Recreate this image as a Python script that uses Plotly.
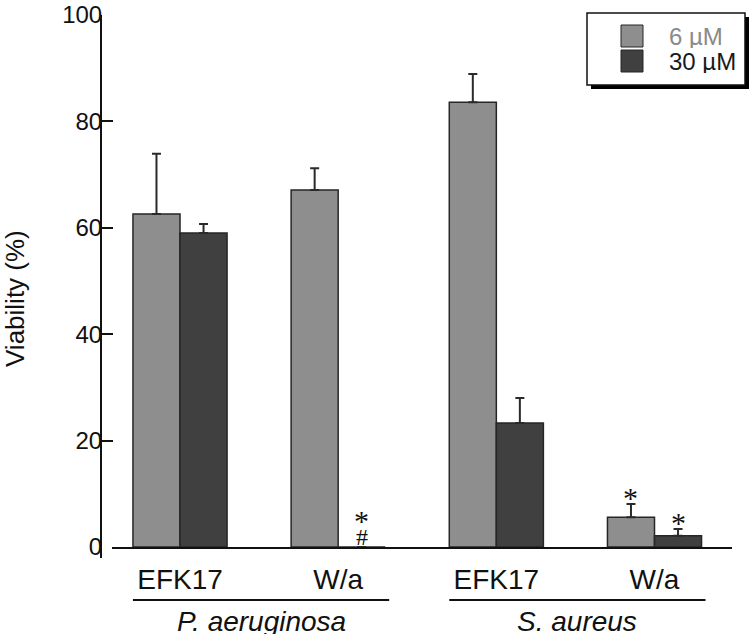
import plotly.graph_objects as go

# ---- data ----
groups = ["EFK17", "W/a", "EFK17", "W/a"]
species = ["P. aeruginosa", "S. aureus"]
species_span = [(0, 1), (2, 3)]
series_names = ["6 µM", "30 µM"]
v6 = [62.6, 67.1, 83.6, 5.6]
e6 = [11.3, 4.1, 5.3, 2.5]
v30 = [59.0, 0.0, 23.3, 2.1]
e30 = [1.7, 0.0, 4.7, 1.3]
# significance marks: (group index, series index, text)
marks = [(1, 1, "*"), (1, 1, "#"), (3, 0, "*"), (3, 1, "*")]
y_ticks = [0, 20, 40, 60, 80, 100]

# ---- style ----
FONT = "Liberation Sans, Arial, Helvetica, sans-serif"
SERIF = "Liberation Serif, Times New Roman, serif"
C6 = "#8e8e8e"
C30 = "#404040"
EDGE = "#262626"
BARGAP = 0.405

x = list(range(len(groups)))

fig = go.Figure()
for vals, errs, name, col in [(v6, e6, series_names[0], C6), (v30, e30, series_names[1], C30)]:
    fig.add_trace(go.Bar(
        x=x, y=vals, name=name, showlegend=False,
        marker=dict(color=col, line=dict(color=EDGE, width=1.5)),
        error_y=dict(type="data", array=errs, arrayminus=[0] * len(errs), symmetric=False,
                     color="#2a2a2a", thickness=2, width=4.5),
    ))

half = (1 - BARGAP) / 4  # half of one bar width in x units
tops = [[v + e for v, e in zip(v6, e6)], [v + e for v, e in zip(v30, e30)]]
annotations = []
for gi, si, txt in marks:
    xpos = gi + (-half if si == 0 else half)
    top = tops[si][gi]
    if txt == "#":
        yshift, size = -5, 24
    elif top == 0:
        yshift, size = 8, 30
    else:
        yshift, size = -12, 30
    annotations.append(dict(x=xpos, y=top, xref="x", yref="y", text=txt, showarrow=False,
                            yanchor="bottom", yshift=yshift,
                            font=dict(family=SERIF, size=size, color="#111")))

# species labels and underlines
shapes = []
for (a, b), sp in zip(species_span, species):
    x0 = a - 2 * half
    x1 = b + 2 * half + 0.025
    shapes.append(dict(type="line", xref="x", yref="paper", x0=x0, x1=x1,
                       y0=-53 / 532, y1=-53 / 532, line=dict(color="#111", width=2)))
    annotations.append(dict(x=(x0 + x1) / 2, y=-74 / 532, xref="x", yref="paper", text="<i>%s</i>" % sp,
                            showarrow=False, xanchor="center", yanchor="middle", height=26,
                            font=dict(family=FONT, size=28, color="#111")))

# y-axis line extension below zero
shapes.append(dict(type="line", xref="paper", yref="paper", x0=0, x1=0, y0=0, y1=-11 / 532,
                   line=dict(color="#111", width=2)))

# y-axis title
annotations.append(dict(x=-86 / 631, y=(547 - 298) / 532, xref="paper", yref="paper",
                        text="Viability (%)", textangle=-90, showarrow=False,
                        xanchor="center", yanchor="middle",
                        font=dict(family=FONT, size=26, color="#111")))

# legend (manual, with drop shadow); px/py convert pixels to paper units
def px(xp):
    return (xp - 101) / 631

def py(yp):
    return (547 - yp) / 532

shapes.append(dict(type="rect", xref="paper", yref="paper", x0=px(591), x1=px(749), y0=py(17), y1=py(89),
                   fillcolor="#000", line=dict(width=0)))
shapes.append(dict(type="rect", xref="paper", yref="paper", x0=px(587), x1=px(745), y0=py(13), y1=py(85),
                   fillcolor="#fff", line=dict(color="#111", width=1.5)))
for i, (name, col, tcol) in enumerate([(series_names[0], C6, "#8a8a8a"), (series_names[1], C30, "#1a1a1a")]):
    yc = 36 + 25 * i
    shapes.append(dict(type="rect", xref="paper", yref="paper", x0=px(621), x1=px(643),
                       y0=py(yc - 11), y1=py(yc + 11), fillcolor=col, line=dict(color=EDGE, width=1)))
    annotations.append(dict(x=px(667), y=py(yc), xref="paper", yref="paper", text=name, showarrow=False,
                            xanchor="left", yanchor="middle", height=24,
                            font=dict(family=FONT, size=24, color=tcol)))

fig.update_layout(
    width=750, height=635, autosize=False,
    margin=dict(l=101, r=18, t=15, b=88, pad=0),
    paper_bgcolor="white", plot_bgcolor="white",
    barmode="group", bargap=BARGAP, bargroupgap=0,
    font=dict(family=FONT, color="#111"),
    shapes=shapes, annotations=annotations,
    xaxis=dict(domain=[11 / 631, 1], range=[-0.43, 3.49], tickmode="array", tickvals=x, ticktext=groups,
               showline=True, linecolor="#111", linewidth=2, ticks="", showgrid=False, zeroline=False,
               automargin=False,
               tickfont=dict(family=FONT, size=28, color="#111"), ticklabelstandoff=6),
    yaxis=dict(range=[0, 100], anchor="free", position=0, tickvals=y_ticks,
               showline=True, linecolor="#111", linewidth=2, ticks="inside", ticklen=11, tickwidth=2,
               tickcolor="#111", showgrid=False, zeroline=False, automargin=False,
               ticklabelstandoff=-7, ticklabeloverflow="allow",
               tickfont=dict(family=FONT, size=24, color="#111")),
)

# remove the page's default body margin so the figure fills the window exactly
fig.write_html("out.html", config={"displayModeBar": False},
               post_script="document.body.style.margin = '0';")
